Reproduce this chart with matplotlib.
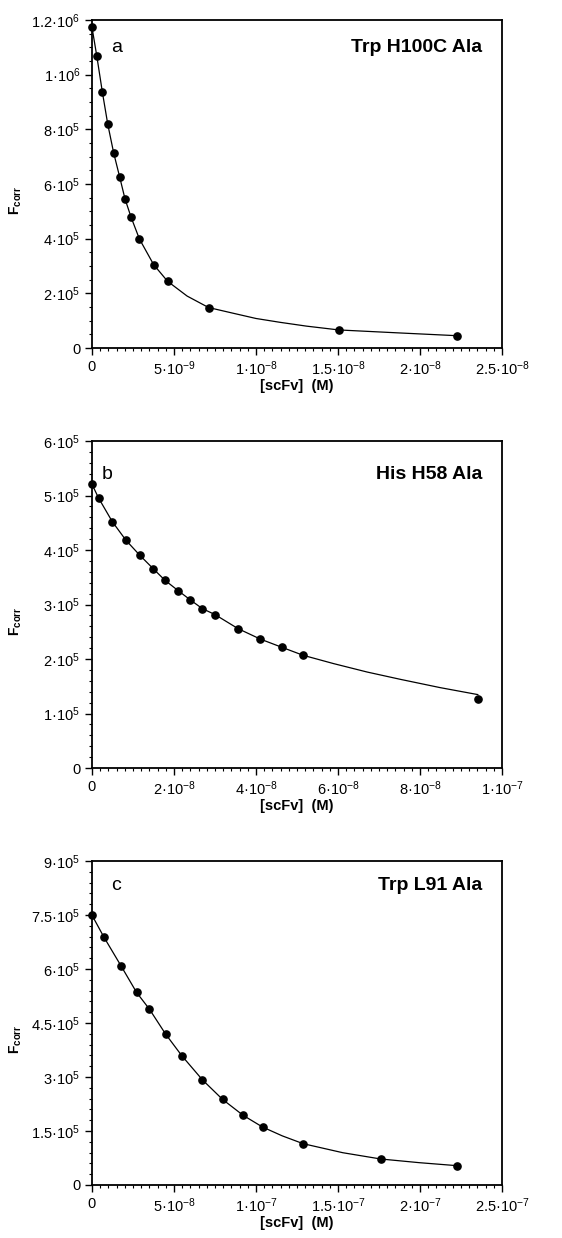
import matplotlib
matplotlib.use("Agg")
import matplotlib.pyplot as plt
from matplotlib.ticker import FixedLocator, MultipleLocator

plt.rcParams['font.family'] = ['Liberation Sans', 'DejaVu Sans']
plt.rcParams['mathtext.fontset'] = 'custom'
plt.rcParams['mathtext.rm'] = 'Liberation Sans'
plt.rcParams['mathtext.it'] = 'Liberation Sans:italic'
plt.rcParams['mathtext.bf'] = 'Liberation Sans:bold'

# ---------------- Panel a: Trp H100C Ala ----------------
a_x = [0.0, 0.29e-9, 0.63e-9, 0.96e-9, 1.32e-9, 1.69e-9, 2.01e-9, 2.38e-9,
       2.89e-9, 3.76e-9, 4.61e-9, 7.11e-9, 15.06e-9, 22.26e-9]
a_y = [1.173e6, 1.069e6, 0.937e6, 0.819e6, 0.714e6, 0.625e6, 0.546e6, 0.479e6,
       0.399e6, 0.305e6, 0.244e6, 0.148e6, 0.066e6, 0.045e6]
a_fit_x = [0.0, 0.29e-9, 0.63e-9, 0.96e-9, 1.32e-9, 1.69e-9, 2.01e-9, 2.38e-9,
           2.89e-9, 3.76e-9, 4.61e-9, 5.8e-9, 7.11e-9, 8.62e-9, 10.0e-9,
           11.46e-9, 13.08e-9, 15.06e-9, 18.78e-9, 22.26e-9]
a_fit_y = [1.173e6, 1.069e6, 0.937e6, 0.819e6, 0.714e6, 0.625e6, 0.546e6, 0.479e6,
           0.399e6, 0.305e6, 0.244e6, 0.190e6, 0.148e6, 0.127e6, 0.108e6,
           0.094e6, 0.080e6, 0.066e6, 0.055e6, 0.045e6]
a_xticks = [0, 5e-9, 1e-8, 1.5e-8, 2e-8, 2.5e-8]
a_xlabels = ['0', r'$\mathregular{5·10^{-9}}$', r'$\mathregular{1·10^{-8}}$',
             r'$\mathregular{1.5·10^{-8}}$', r'$\mathregular{2·10^{-8}}$',
             r'$\mathregular{2.5·10^{-8}}$']
a_yticks = [0, 2e5, 4e5, 6e5, 8e5, 1e6, 1.2e6]
a_ylabels = ['0', r'$\mathregular{2·10^{5}}$', r'$\mathregular{4·10^{5}}$',
             r'$\mathregular{6·10^{5}}$', r'$\mathregular{8·10^{5}}$',
             r'$\mathregular{1·10^{6}}$', r'$\mathregular{1.2·10^{6}}$']

# ---------------- Panel b: His H58 Ala ----------------
b_x = [0.0, 1.6e-9, 4.95e-9, 8.29e-9, 11.6e-9, 14.9e-9, 17.8e-9, 21.0e-9,
       24.0e-9, 26.9e-9, 30.0e-9, 35.6e-9, 41.0e-9, 46.3e-9, 51.5e-9, 94.1e-9]
b_y = [5.206e5, 4.954e5, 4.52e5, 4.178e5, 3.908e5, 3.659e5, 3.444e5, 3.255e5,
       3.083e5, 2.925e5, 2.815e5, 2.558e5, 2.367e5, 2.215e5, 2.068e5, 1.26e5]
b_fit_x = [0.0, 1.6e-9, 4.95e-9, 8.29e-9, 11.6e-9, 14.9e-9, 17.8e-9, 21.0e-9,
           24.0e-9, 26.9e-9, 30.0e-9, 35.6e-9, 41.0e-9, 46.3e-9, 51.5e-9,
           58.9e-9, 67.1e-9, 75.2e-9, 84.9e-9, 94.1e-9]
b_fit_y = [5.206e5, 4.954e5, 4.52e5, 4.178e5, 3.908e5, 3.659e5, 3.444e5, 3.255e5,
           3.083e5, 2.925e5, 2.815e5, 2.558e5, 2.367e5, 2.215e5, 2.068e5,
           1.916e5, 1.761e5, 1.627e5, 1.475e5, 1.347e5]
b_xticks = [0, 2e-8, 4e-8, 6e-8, 8e-8, 1e-7]
b_xlabels = ['0', r'$\mathregular{2·10^{-8}}$', r'$\mathregular{4·10^{-8}}$',
             r'$\mathregular{6·10^{-8}}$', r'$\mathregular{8·10^{-8}}$',
             r'$\mathregular{1·10^{-7}}$']
b_yticks = [0, 1e5, 2e5, 3e5, 4e5, 5e5, 6e5]
b_ylabels = ['0', r'$\mathregular{1·10^{5}}$', r'$\mathregular{2·10^{5}}$',
             r'$\mathregular{3·10^{5}}$', r'$\mathregular{4·10^{5}}$',
             r'$\mathregular{5·10^{5}}$', r'$\mathregular{6·10^{5}}$']

# ---------------- Panel c: Trp L91 Ala ----------------
c_x = [0.0, 7.3e-9, 17.7e-9, 27.2e-9, 35.0e-9, 44.9e-9, 54.8e-9, 67.3e-9,
       79.6e-9, 92.2e-9, 104.0e-9, 128.8e-9, 176.1e-9, 222.8e-9]
c_y = [7.494e5, 6.883e5, 6.087e5, 5.348e5, 4.885e5, 4.191e5, 3.589e5, 2.923e5,
       2.378e5, 1.934e5, 1.61e5, 1.147e5, 0.722e5, 0.536e5]
c_fit_x = [0.0, 7.3e-9, 17.7e-9, 27.2e-9, 35.0e-9, 44.9e-9, 54.8e-9, 67.3e-9,
           79.6e-9, 92.2e-9, 104.0e-9, 116.0e-9, 128.8e-9, 152.9e-9, 176.1e-9,
           199.6e-9, 222.8e-9]
c_fit_y = [7.494e5, 6.883e5, 6.087e5, 5.348e5, 4.885e5, 4.191e5, 3.589e5, 2.923e5,
           2.378e5, 1.934e5, 1.61e5, 1.365e5, 1.147e5, 0.897e5, 0.722e5,
           0.62e5, 0.536e5]
c_xticks = [0, 5e-8, 1e-7, 1.5e-7, 2e-7, 2.5e-7]
c_xlabels = ['0', r'$\mathregular{5·10^{-8}}$', r'$\mathregular{1·10^{-7}}$',
             r'$\mathregular{1.5·10^{-7}}$', r'$\mathregular{2·10^{-7}}$',
             r'$\mathregular{2.5·10^{-7}}$']
c_yticks = [0, 1.5e5, 3e5, 4.5e5, 6e5, 7.5e5, 9e5]
c_ylabels = ['0', r'$\mathregular{1.5·10^{5}}$', r'$\mathregular{3·10^{5}}$',
             r'$\mathregular{4.5·10^{5}}$', r'$\mathregular{6·10^{5}}$',
             r'$\mathregular{7.5·10^{5}}$', r'$\mathregular{9·10^{5}}$']

panel_letters = ['a', 'b', 'c']
panel_titles = ['Trp H100C Ala', 'His H58 Ala', 'Trp L91 Ala']
x_label = '[scFv]  (M)'
y_label = r'$\mathbf{F_{corr}}$'

W, H = 562, 1238
fig = plt.figure(figsize=(W / 100, H / 100), dpi=100)

# axes boxes in pixels (left, top, right, bottom)
boxes = [(92, 20, 502, 348), (92, 441, 502, 768), (92, 861, 502, 1185)]

panels = [
    dict(x=a_x, y=a_y, fx=a_fit_x, fy=a_fit_y, xt=a_xticks, xl=a_xlabels,
         yt=a_yticks, yl=a_ylabels, xmin=5e-10, ymin=5e4, let_x=0.046, let_y=0.903),
    dict(x=b_x, y=b_y, fx=b_fit_x, fy=b_fit_y, xt=b_xticks, xl=b_xlabels,
         yt=b_yticks, yl=b_ylabels, xmin=2e-9, ymin=2e4, let_x=0.024, let_y=0.884),
    dict(x=c_x, y=c_y, fx=c_fit_x, fy=c_fit_y, xt=c_xticks, xl=c_xlabels,
         yt=c_yticks, yl=c_ylabels, xmin=5e-9, ymin=3e4, let_x=0.046, let_y=0.911),
]

for i, (p, box) in enumerate(zip(panels, boxes)):
    l, t, r, b = box
    ax = fig.add_axes([l / W, 1 - b / H, (r - l) / W, (b - t) / H])
    ax.plot(p['fx'], p['fy'], '-', color='black', lw=0.9, clip_on=False, zorder=2)
    ax.plot(p['x'], p['y'], 'o', color='black', ms=5.2, clip_on=False, zorder=3)
    ax.set_xlim(p['xt'][0], p['xt'][-1])
    ax.set_ylim(p['yt'][0], p['yt'][-1])
    ax.xaxis.set_major_locator(FixedLocator(p['xt']))
    ax.set_xticklabels(p['xl'])
    ax.yaxis.set_major_locator(FixedLocator(p['yt']))
    ax.set_yticklabels(p['yl'])
    ax.xaxis.set_minor_locator(MultipleLocator(p['xmin']))
    ax.yaxis.set_minor_locator(MultipleLocator(p['ymin']))
    ax.tick_params(which='major', direction='out', length=5, width=1.0,
                   labelsize=10.5, pad=3.5, color='black')
    ax.tick_params(which='minor', direction='out', length=2.5, width=0.8,
                   color='black')
    ax.tick_params(top=False, right=False, which='both')
    for s in ax.spines.values():
        s.set_linewidth(1.3)
    ax.text(p['let_x'], p['let_y'], panel_letters[i], transform=ax.transAxes,
            fontsize=14, ha='left', va='baseline')
    ax.text(0.951, p['let_y'], panel_titles[i], transform=ax.transAxes,
            fontsize=14, fontweight='bold', ha='right', va='baseline')
    ax.set_xlabel(x_label, fontsize=10.5, fontweight='bold')
    ax.xaxis.set_label_coords(0.5, -38 / (b - t), transform=ax.transAxes)
    ax.xaxis.label.set_va('center')
    ax.set_ylabel(y_label, fontsize=10)
    ax.yaxis.set_label_coords(-76 / (r - l), 0.45, transform=ax.transAxes)
    ax.yaxis.label.set_va('center')

fig.savefig('out.png', dpi=100)
